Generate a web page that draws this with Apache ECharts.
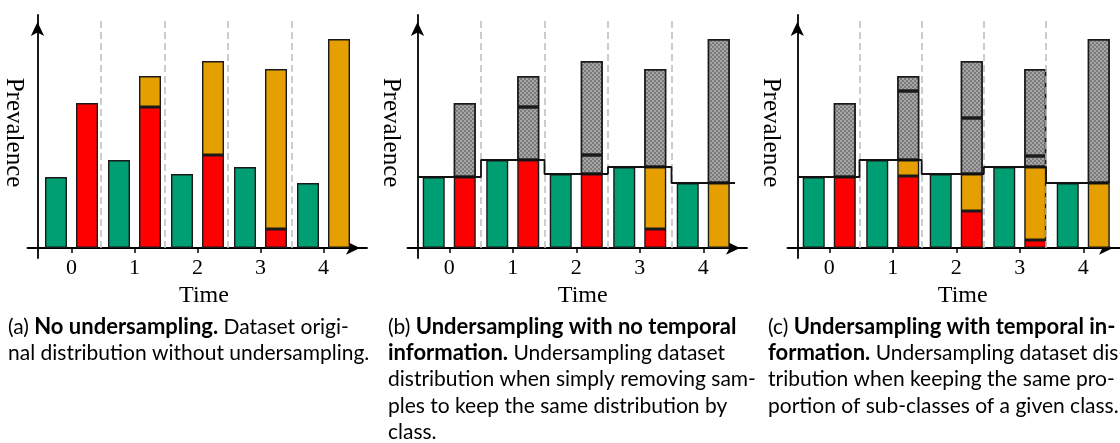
<!DOCTYPE html>
<html><head><meta charset="utf-8">
<script src="https://cdn.jsdelivr.net/npm/echarts@6/dist/echarts.min.js"></script>
<style>html,body{margin:0;padding:0;background:#fff}#c{width:1120px;height:443px}</style>
</head><body><div id="c"></div>
<script>
// ---------- data (in "prevalence" units) ----------
const categories = ['0', '1', '2', '3', '4'];
const tickLabels = ['0', '1', '2', '3', '4'];
const classGreen = [71, 88, 74, 81, 65];           // majority-class bar (left of each pair)

// (a) no undersampling
const aRed = [145, 141, 93, 19, 0];
const aOrange = [0, 31, 94, 160, 209];
const aRedRemoved = [0, 0, 0, 0, 0];
const aOrangeRemoved = [0, 0, 0, 0, 0];

// (b) undersampling with no temporal information
const bRed = [71, 88, 74, 19, 0];
const bOrange = [0, 0, 0, 62, 65];
const bRedRemoved = [74, 53, 19, 0, 0];
const bOrangeRemoved = [0, 31, 94, 98, 144];

// (c) undersampling with temporal information
const cRed = [71, 72, 37, 8, 0];
const cOrange = [0, 16, 37, 73, 65];
const cRedRemoved = [74, 69, 56, 11, 0];
const cOrangeRemoved = [0, 15, 57, 87, 144];

const xName = 'Time';
const yName = 'Prevalence';

const captionA = [
  '{n|(a) }{b|No undersampling.}{n| Dataset origi-}',
  '{n|nal distribution without undersampling.}'
];
const captionB = [
  '{n|(b) }{b|Undersampling with no temporal}',
  '{b|information.}{n| Undersampling dataset}',
  '{n|distribution when simply removing sam-}',
  '{n|ples to keep the same distribution by}',
  '{n|class.}'
];
const captionC = [
  '{n|(c) }{b|Undersampling with temporal in-}',
  '{b|formation.}{n| Undersampling dataset dis-}',
  '{n|tribution when keeping the same pro-}',
  '{n|portion of sub-classes of a given class.}'
];

// ---------- layout / style ----------
const GREEN = '#009E73', RED = '#FF0000', ORANGE = '#E69F00', GRAY = '#a6a6a6';
const SERIF = 'Liberation Serif';
const SANS = 'Lato';
const panelOffset = 380;
const band = 63.5;
const nz = arr => arr.map(v => (v === 0 ? '-' : v));

const panels = [
  { red: aRed, orange: aOrange, redRem: aRedRemoved, orangeRem: aOrangeRemoved, step: false, caption: captionA },
  { red: bRed, orange: bOrange, redRem: bRedRemoved, orangeRem: bOrangeRemoved, step: true, caption: captionB },
  { red: cRed, orange: cOrange, redRem: cRedRemoved, orangeRem: cOrangeRemoved, step: true, caption: captionC }
];

const grid = [], xAxis = [], yAxis = [], series = [], graphic = [];
const border = { borderColor: '#1a1a1a', borderWidth: 1.4 };
const grayDecal = {
  symbol: 'rect', symbolSize: 1, color: 'rgba(70,70,70,0.45)',
  dashArrayX: [[2, 2], [0, 2, 2, 0]], dashArrayY: [2, 0], rotation: 0
};

panels.forEach((p, i) => {
  const ox = i * panelOffset;
  const gBars = grid.length;
  // bars grid (category bands)
  grid.push({ left: 37.5 + ox, top: 17, width: 317.5, height: 231 });
  // axes grid (arrows, boundaries, step line) in band units
  grid.push({ left: 27.5 + ox, top: 15, width: 339.5, height: 243 });
  const gAxes = gBars + 1;

  xAxis.push({
    gridIndex: gBars, type: 'category', data: categories,
    axisLine: { show: false },
    axisTick: { show: true, alignWithLabel: true, length: 5, lineStyle: { color: '#000', width: 1.5 } },
    axisLabel: { margin: 9, color: '#000', fontFamily: SERIF, fontSize: 22, formatter: (v, k) => tickLabels[k] },
    splitLine: { show: false },
    name: xName, nameLocation: 'middle', nameGap: 29,
    nameTextStyle: { color: '#000', fontFamily: SERIF, fontSize: 24, padding: [0, 0, 0, 13] }
  });
  yAxis.push({
    gridIndex: gBars, type: 'value', min: 0, max: 231,
    axisLine: { show: false }, axisTick: { show: false }, axisLabel: { show: false }, splitLine: { show: false },
    name: yName, nameLocation: 'middle', nameGap: 14, nameRotate: -90,
    nameTextStyle: { color: '#000', fontFamily: SERIF, fontSize: 25 }
  });
  xAxis.push({
    gridIndex: gAxes, type: 'value', min: -10 / band, max: 329.5 / band,
    axisLine: { show: true, onZero: true, symbol: ['none', 'arrow'], symbolSize: [10, 14], symbolOffset: [0, -7],
      lineStyle: { color: '#000', width: 1.8 } },
    axisTick: { show: false }, axisLabel: { show: false }, splitLine: { show: false }
  });
  yAxis.push({
    gridIndex: gAxes, type: 'value', min: -10, max: 233,
    axisLine: { show: true, onZero: true, symbol: ['none', 'arrow'], symbolSize: [10, 14], symbolOffset: [0, -7],
      lineStyle: { color: '#000', width: 1.8 } },
    axisTick: { show: false }, axisLabel: { show: false }, splitLine: { show: false }
  });

  const barCommon = { type: 'bar', xAxisIndex: gBars, yAxisIndex: gBars, barWidth: 22, barGap: '41%', silent: true };
  series.push(Object.assign({}, barCommon, { name: 'green', stack: 'g' + i, data: nz(classGreen),
    itemStyle: Object.assign({ color: GREEN }, border) }));
  series.push(Object.assign({}, barCommon, { name: 'red', stack: 's' + i, data: nz(p.red),
    itemStyle: Object.assign({ color: RED }, border) }));
  series.push(Object.assign({}, barCommon, { name: 'orange', stack: 's' + i, data: nz(p.orange),
    itemStyle: Object.assign({ color: ORANGE }, border) }));
  series.push(Object.assign({}, barCommon, { name: 'removed red', stack: 's' + i, data: nz(p.redRem),
    itemStyle: Object.assign({ color: GRAY, decal: grayDecal }, border) }));
  series.push(Object.assign({}, barCommon, { name: 'removed orange', stack: 's' + i, data: nz(p.orangeRem),
    itemStyle: Object.assign({ color: GRAY, decal: grayDecal }, border) }));

  // boundaries between time steps (dashed) + kept level (step line)
  const stepData = p.step ? classGreen.map((v, k) => [k, v]).concat([[classGreen.length, classGreen[classGreen.length - 1]]]) : [];
  series.push({
    type: 'line', xAxisIndex: gAxes, yAxisIndex: gAxes, step: 'end', data: stepData,
    symbol: 'none', silent: true, z: 5,
    lineStyle: { color: '#111', width: 1.8 },
    markLine: {
      silent: true, symbol: ['none', 'none'], label: { show: false },
      lineStyle: { color: '#bdbdbd', width: 1.5, type: [7, 4] },
      data: [1, 2, 3, 4].map(b => [{ coord: [b, 0] }, { coord: [b, 231] }])
    }
  });

  p.caption.forEach((line, k) => {
    graphic.push({
      type: 'text', x: 8 + ox, y: 327 + k * 26.3, silent: true,
      style: {
        text: line, verticalAlign: 'middle', fill: '#000',
        rich: {
          n: { fontFamily: SANS, fontSize: 21, fontWeight: 'normal', fill: '#000' },
          b: { fontFamily: SANS, fontSize: 22, fontWeight: 'bold', fill: '#000' }
        }
      }
    });
  });
});

const chart = echarts.init(document.getElementById('c'));
chart.setOption({ animation: false, backgroundColor: '#fff', grid, xAxis, yAxis, series, graphic });
</script></body></html>
